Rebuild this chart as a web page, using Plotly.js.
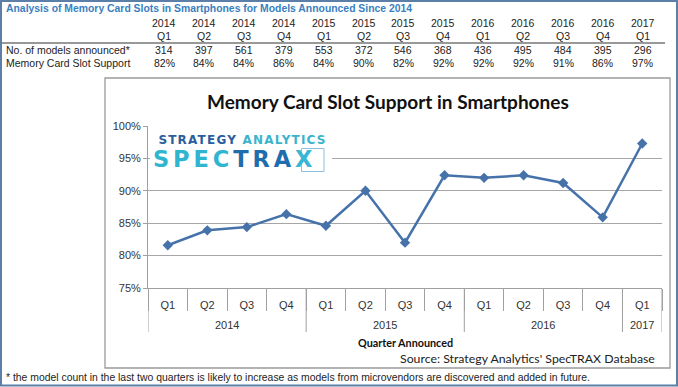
<!DOCTYPE html>
<html><head><meta charset="utf-8">
<script src="https://cdn.plot.ly/plotly-3.0.1.min.js"></script>
<style>html,body{margin:0;padding:0;background:#fff;}#chart{width:678px;height:387px;}</style>
</head><body><div id="chart"></div>
<script>
const years = ["2014","2014","2014","2014","2015","2015","2015","2015","2016","2016","2016","2016","2017"];
const quarters = ["Q1","Q2","Q3","Q4","Q1","Q2","Q3","Q4","Q1","Q2","Q3","Q4","Q1"];
const support = [81.6, 83.9, 84.4, 86.4, 84.6, 90.0, 82.0, 92.4, 92.0, 92.4, 91.2, 85.9, 97.3];
const models = [314, 397, 561, 379, 553, 372, 546, 368, 436, 495, 484, 395, 296];
const supportLabels = ["82%","84%","84%","86%","84%","90%","82%","92%","92%","92%","91%","86%","97%"];
const categories = years.map((y, i) => y + " " + quarters[i]);

const W = 678, H = 387, L = 148, R = 16, T = 126, B = 99;
const pw = W - L - R, ph = H - T - B;
const px = x => (x - L) / pw;
const py = y => (H - B - y) / ph;

const arial = "Liberation Sans, Arial, sans-serif";
const cal = "Lato, Carlito, sans-serif";
const logoFont = "DejaVu Sans, sans-serif";
const grey = '#a0a0a0';

const ann = [];
const shapes = [];
// table title
ann.push({xref:'paper',yref:'paper',x:px(4),y:py(9),xanchor:'left',yanchor:'middle',showarrow:false,
  text:'<b>Analysis of Memory Card Slots in Smartphones for Models Announced Since 2014</b>',
  font:{family:arial,size:10.4,color:'#3A7FC1'}});
// row labels
ann.push({xref:'paper',yref:'paper',x:px(4),y:py(50),xanchor:'left',yanchor:'middle',showarrow:false,
  text:'No. of models announced*',font:{family:arial,size:10.5,color:'#222'}});
ann.push({xref:'paper',yref:'paper',x:px(4),y:py(63),xanchor:'left',yanchor:'middle',showarrow:false,
  text:'Memory Card Slot Support',font:{family:arial,size:10.5,color:'#222'}});
for (let i = 0; i < years.length; i++) {
  const cx = 164 + i * 39.9;
  const rows = [[years[i],23],[quarters[i],36],[String(models[i]),50],[supportLabels[i],63]];
  rows.forEach(([t,y]) => ann.push({xref:'paper',yref:'paper',x:px(cx),y:py(y),xanchor:'center',yanchor:'middle',
    showarrow:false,text:t,font:{family:arial,size:10.5,color:'#222'}}));
}
shapes.push({type:'line',xref:'paper',yref:'paper',x0:px(0),x1:px(665),y0:py(43),y1:py(43),line:{color:'#333',width:1}});
// chart box
shapes.push({type:'rect',xref:'paper',yref:'paper',x0:px(105),x1:px(670),y0:py(78),y1:py(368),line:{color:'#9a9a9a',width:1.3},layer:'below'});
// outer frame
shapes.push({type:'rect',xref:'paper',yref:'paper',x0:px(1),x1:px(677),y0:py(1),y1:py(385.5),line:{color:'#5B7FA6',width:2}});
// logo background
shapes.push({type:'rect',xref:'paper',yref:'paper',x0:px(150),x1:px(332),y0:py(131),y1:py(176),fillcolor:'#fff',line:{width:0},layer:'above'});
shapes.push({type:'rect',xref:'paper',yref:'paper',x0:px(301.5),x1:px(324),y0:py(148.5),y1:py(171.5),line:{color:'#8CC0DC',width:1},layer:'above'});
// year dividers (data-positioned at category boundaries)
const yearGroups = [];
years.forEach((y, i) => {
  if (!yearGroups.length || yearGroups[yearGroups.length-1].year !== y) yearGroups.push({year:y, start:i, end:i});
  else yearGroups[yearGroups.length-1].end = i;
});
const bounds = [-0.5].concat(yearGroups.map(g => g.end + 0.5));
bounds.forEach(b => shapes.push({type:'line',xref:'x',yref:'paper',x0:b,x1:b,y0:py(288),y1:py(332),line:{color:grey,width:1}}));
yearGroups.forEach(g => ann.push({xref:'x',yref:'paper',x:(g.start + g.end)/2,y:py(325),xanchor:'center',yanchor:'middle',
  showarrow:false,text:g.year,font:{family:arial,size:11,color:'#333'}}));
// chart title
ann.push({xref:'paper',yref:'paper',x:px(388),y:py(101),xanchor:'center',yanchor:'middle',showarrow:false,
  text:'<b>Memory Card Slot Support in Smartphones</b>',font:{family:cal,size:19,color:'#111'}});
// logo (one text block, two lines)
ann.push({xref:'paper',yref:'paper',x:px(152),y:py(152),xanchor:'left',yanchor:'middle',align:'left',showarrow:false,borderpad:0,
  text:'<b><span style="font-size:12px;color:#2A5E9C;letter-spacing:1.2px">&nbsp;STRATEGY</span><span style="font-size:12px;color:#3BB3CC;letter-spacing:1.2px"> ANALYTICS</span></b><br>' +
       '<b><span style="font-size:22.5px;color:#2FB5D0;letter-spacing:3.9px">SPEC</span><span style="font-size:22.5px;color:#1F6DAE;letter-spacing:3.9px">TRA</span><span style="font-size:22.5px;color:#39B6D3">X</span></b>',
  font:{family:logoFont,size:18,color:'#2FB5D0'}});
// axis title & source & footnote
ann.push({xref:'paper',yref:'paper',x:0.5,y:py(342),xanchor:'center',yanchor:'middle',showarrow:false,
  text:'<b>Quarter Announced</b>',font:{family:cal,size:10.8,color:'#111'}});
ann.push({xref:'paper',yref:'paper',x:px(657),y:py(358),xanchor:'right',yanchor:'middle',showarrow:false,
  text:"Source: Strategy Analytics' SpecTRAX Database",font:{family:cal,size:12.3,color:'#222'}});
ann.push({xref:'paper',yref:'paper',x:px(4),y:py(377),xanchor:'left',yanchor:'middle',showarrow:false,
  text:'* the model count in the last two quarters is likely to increase as models from microvendors are discovered and added in future.',
  font:{family:arial,size:10.4,color:'#222'}});

const trace = {
  type:'scatter', mode:'lines+markers',
  x:categories, y:support,
  line:{color:'#4672AA',width:2.5},
  marker:{symbol:'diamond',size:8,color:'#4672AA'},
  hoverinfo:'skip'
};

const layout = {
  width:W, height:H, margin:{l:L,r:R,t:T,b:B},
  paper_bgcolor:'#fff', plot_bgcolor:'#fff', showlegend:false,
  font:{family:arial,size:11,color:'#333'},
  xaxis:{type:'category', categoryorder:'array', categoryarray:categories, range:[-0.5, categories.length-0.5],
    tickvals:categories, ticktext:quarters,
    showgrid:false, zeroline:false, showline:true, linecolor:grey, linewidth:1,
    ticks:'outside', tickson:'boundaries', ticklen:22, tickcolor:grey, tickwidth:1, ticklabelstandoff:7,
    tickfont:{family:arial,size:11,color:'#333'}},
  yaxis:{range:[75,100], dtick:5, tick0:75, ticksuffix:'%', showgrid:true, gridcolor:'#a6a6a6', gridwidth:1,
    zeroline:false, showline:true, linecolor:grey, linewidth:1, ticks:'outside', ticklen:4, tickcolor:grey,
    tickfont:{family:arial,size:11,color:'#333'}},
  annotations:ann, shapes:shapes
};
Plotly.newPlot('chart',[trace],layout,{staticPlot:true,displayModeBar:false});
</script></body></html>
